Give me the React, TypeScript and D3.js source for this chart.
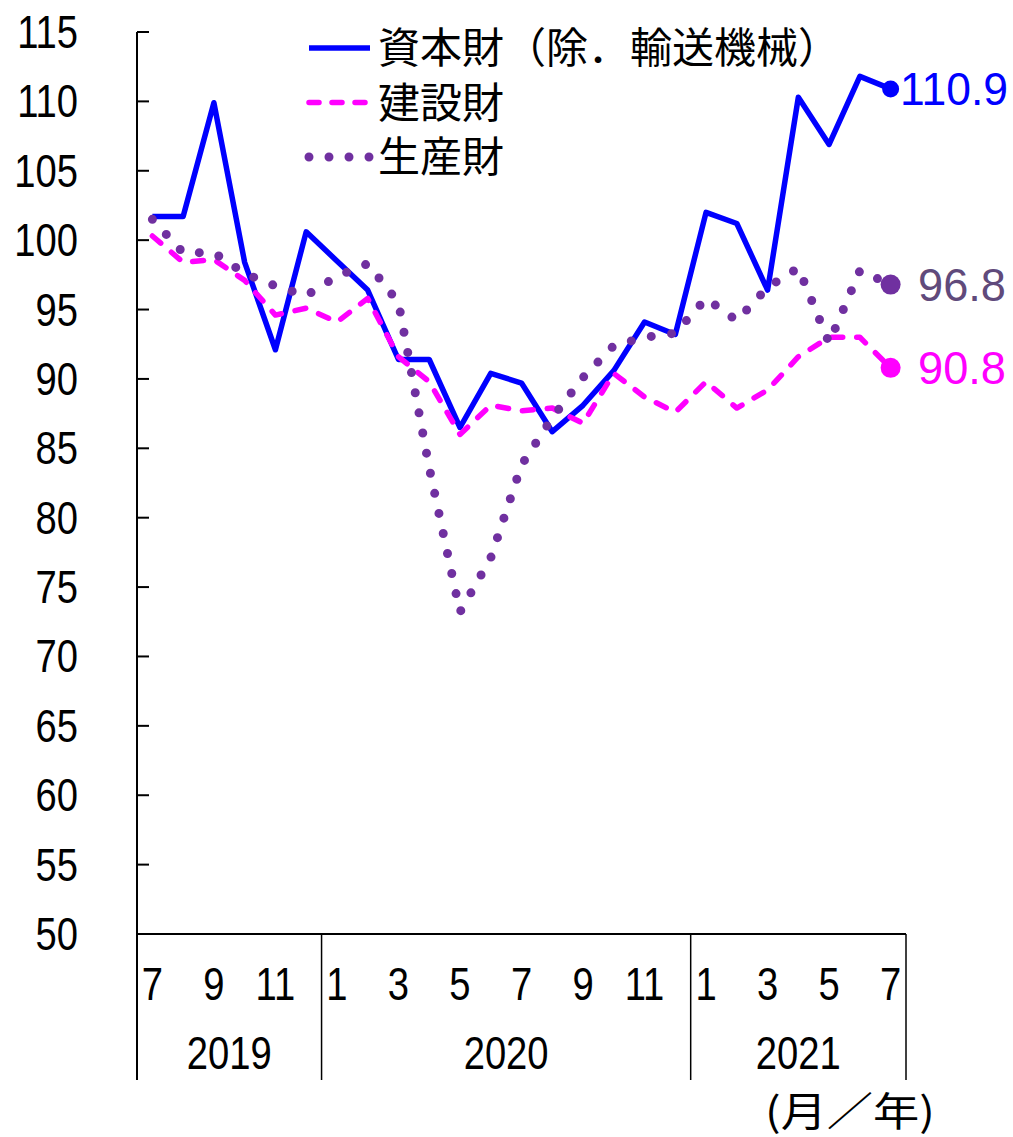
import * as React from "react";
import * as d3 from "d3";

// month labels, 2019/7 .. 2021/7
const MONTHS = [7, 8, 9, 10, 11, 12, 1, 2, 3, 4, 5, 6, 7, 8, 9, 10, 11, 12, 1, 2, 3, 4, 5, 6, 7];
const YEARS = [
  { year: "2019", from: 0, to: 5 },
  { year: "2020", from: 6, to: 17 },
  { year: "2021", from: 18, to: 24 },
];
const Y_TICKS = [50, 55, 60, 65, 70, 75, 80, 85, 90, 95, 100, 105, 110, 115];

const CAPITAL = [101.7, 101.7, 109.9, 98.4, 92.1, 100.6, 98.5, 96.4, 91.4, 91.4, 86.5, 90.4, 89.7, 86.2, 88.1, 90.6, 94.1, 93.2, 102.0, 101.2, 96.4, 110.3, 106.9, 111.8, 110.9];
const CONSTRUCTION = [100.3, 98.4, 98.6, 97.1, 94.6, 95.1, 94.1, 95.8, 91.6, 89.8, 86.0, 88.1, 87.7, 87.9, 86.8, 90.4, 88.7, 87.6, 89.8, 87.9, 89.2, 91.6, 93.0, 93.0, 90.8];
const PRODUCER = [101.5, 99.1, 99.1, 97.6, 96.7, 96.0, 97.4, 98.3, 95.5, 83.6, 73.2, 77.1, 83.8, 87.2, 90.1, 92.4, 93.0, 93.3, 95.8, 94.2, 96.6, 98.0, 92.6, 97.8, 96.8];

const SERIES = [
  { name: "資本財（除．輸送機械）", values: CAPITAL, color: "#0000FF", label: "110.9", labelColor: "#0000FF", labelX: 900, labelW: 108, r: 8.5, width: 5.5, dash: "", legendDash: "", cap: "butt" },
  { name: "建設財", values: CONSTRUCTION, color: "#FF00FF", label: "90.8", labelColor: "#FF00FF", labelX: 918, labelW: 88, r: 10, width: 5.5, dash: "11 14", legendDash: "10 13", cap: "round" },
  { name: "生産財", values: PRODUCER, color: "#7030A0", label: "96.8", labelColor: "#604A7B", labelX: 918, labelW: 88, r: 10, width: 9, dash: "0 20.5", legendDash: "0 20", cap: "round" },
];

const NUM_FONT = "'Liberation Sans', Arial, sans-serif";
const JP_FONT = "'Noto Sans CJK JP', sans-serif";
const NARROW = 0.83;

function Num(props: { x: number; y: number; anchor?: string; children: React.ReactNode }) {
  return (
    <text
      transform={`translate(${props.x},${props.y}) scale(${NARROW},1)`}
      textAnchor={props.anchor ?? "middle"}
      fontFamily={NUM_FONT}
      fontSize={46}
    >
      {props.children}
    </text>
  );
}

export default function App() {
  const [width, height] = [1013, 1137];
  const left = 137, right = 906, top = 32, bottom = 934;

  const x = d3.scaleBand<number>().domain(d3.range(MONTHS.length)).range([left, right]);
  const y = d3.scaleLinear().domain([50, 115]).range([bottom, top]);
  const cx = (i: number) => (x(i) ?? 0) + x.bandwidth() / 2;

  const line = d3
    .line<number>()
    .x((d, i) => cx(i))
    .y((d) => y(d));

  const lastI = MONTHS.length - 1;
  const separators = [left, ...YEARS.map((g) => (x(g.to) ?? 0) + x.bandwidth())];

  return (
    <svg width={width} height={height} style={{ position: "absolute", left: 0, top: 0, background: "#fff" }}>
      {/* y axis */}
      <line x1={left} x2={left} y1={top} y2={1080} stroke="#000" strokeWidth={2} />
      <line x1={left} x2={right} y1={bottom} y2={bottom} stroke="#000" strokeWidth={2} />
      {Y_TICKS.map((t) => (
        <g key={t}>
          <line x1={left} x2={left + 12} y1={y(t)} y2={y(t)} stroke="#000" strokeWidth={2} />
          <Num x={78} y={y(t) + 16} anchor="end">
            {t}
          </Num>
        </g>
      ))}

      {/* x axis: year separators, months, years */}
      {separators.map((s, i) => (
        <line key={i} x1={s} x2={s} y1={bottom} y2={1080} stroke="#000" strokeWidth={1.5} />
      ))}
      {MONTHS.map((m, i) =>
        m % 2 === 1 ? (
          <Num key={i} x={cx(i)} y={1000}>
            {m}
          </Num>
        ) : null
      )}
      {YEARS.map((g) => (
        <Num key={g.year} x={((x(g.from) ?? 0) + (x(g.to) ?? 0) + x.bandwidth()) / 2} y={1069}>
          {g.year}
        </Num>
      ))}
      <text x={765} y={1126} textLength={170} lengthAdjust="spacingAndGlyphs" fontFamily={JP_FONT} fontSize={40}>
        (月／年)
      </text>

      {/* series */}
      {SERIES.map((s) => (
        <path
          key={s.name}
          d={line(s.values) ?? ""}
          fill="none"
          stroke={s.color}
          strokeWidth={s.width}
          strokeDasharray={s.dash || undefined}
          strokeLinecap={s.cap as any}
          strokeLinejoin="round"
        />
      ))}
      {SERIES.map((s) => (
        <g key={s.name + "-end"}>
          <circle cx={cx(lastI)} cy={y(s.values[lastI])} r={s.r} fill={s.color} />
          <text
            x={s.labelX}
            y={y(s.values[lastI]) + 16}
            textLength={s.labelW}
            lengthAdjust="spacingAndGlyphs"
            fill={s.labelColor}
            fontFamily={NUM_FONT}
            fontSize={46}
          >
            {s.label}
          </text>
        </g>
      ))}

      {/* legend */}
      {SERIES.map((s, i) => {
        const ly = 48 + i * 54.5;
        return (
          <g key={s.name + "-legend"}>
            <line
              x1={309}
              x2={370}
              y1={ly}
              y2={ly}
              stroke={s.color}
              strokeWidth={s.width}
              strokeDasharray={s.legendDash || undefined}
              strokeLinecap={s.cap as any}
            />
            <text x={378} y={ly} dy="0.36em" fontFamily={JP_FONT} fontSize={42}>
              {s.name}
            </text>
          </g>
        );
      })}
    </svg>
  );
}
